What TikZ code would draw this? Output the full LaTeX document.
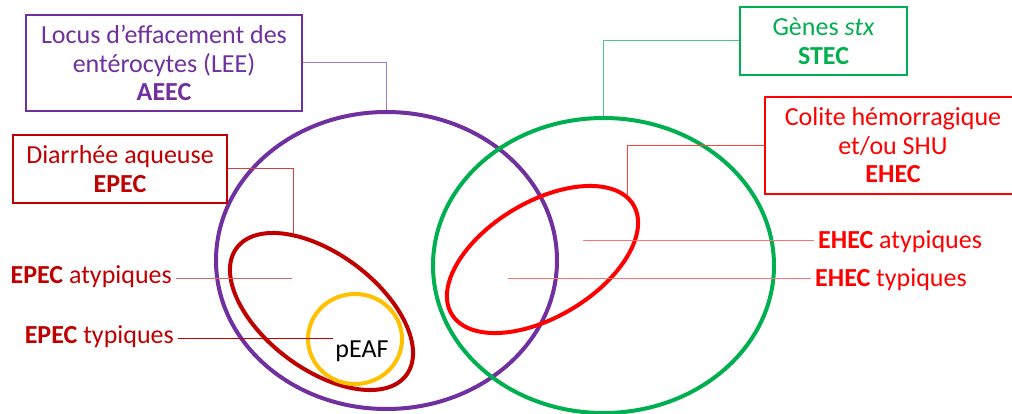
\documentclass[tikz,border=0pt]{standalone}
\usepackage{fontspec}
\setmainfont{Carlito}
\usetikzlibrary{shapes.geometric}
\definecolor{leec}{HTML}{7030A0}
\definecolor{epecc}{HTML}{C00000}
\definecolor{ehecc}{HTML}{FF0000}
\definecolor{stecc}{HTML}{00B050}
\definecolor{peafc}{HTML}{FFC000}
\begin{document}
\begin{tikzpicture}[x=1pt,y=-1pt,
  txt/.style={font=\fontsize{26}{28.5}\selectfont, align=center, inner sep=0pt},
  infobox/.style={txt, draw, line width=2pt},
  ring/.style={draw, ellipse, line width=4pt, inner sep=0pt},
  conn/.style={line width=1pt},
  lbl/.style={txt, inner xsep=4pt}]
\path[use as bounding box] (0,0) rectangle (1012,414);
\fill[white] (0,0) rectangle (1012,414);
\clip (0,0) rectangle (1012,414);

% sets
\node[ring, leec, minimum width=341pt, minimum height=297pt] (leeE) at (386.5,260.5) {};
\node[ring, stecc, minimum width=341pt, minimum height=295pt] (stecE) at (603.5,265.5) {};
\node[ring, ehecc, minimum width=212pt, minimum height=115pt, rotate=31] (ehecE) at (542.5,259.5) {};
\node[ring, epecc, minimum width=212pt, minimum height=115pt, rotate=-36.9] (epecE) at (321.5,311.5) {};
\node[ring, peafc, minimum width=94pt, minimum height=90pt] (peafE) at (355,339) {};
\node[txt] (peafT) at (362,351) {pEAF};

% boxes
\node[infobox, leec, minimum width=276pt, minimum height=96pt] (leeB) at (164,63)
  {Locus d’effacement des\\entérocytes (LEE)\\\textbf{AEEC}};
\node[infobox, epecc, minimum width=214pt, minimum height=68pt] (epecB) at (120,169)
  {Diarrhée aqueuse\\\textbf{EPEC}};
\node[infobox, stecc, minimum width=167pt, minimum height=68pt] (stecB) at (823.5,41)
  {Gènes \textit{stx}\\\textbf{STEC}};
\node[infobox, ehecc, minimum width=256pt, minimum height=97pt] (ehecB) at (893,145.5)
  {Colite hémorragique\\et/ou SHU\\\textbf{EHEC}};

% labels
\node[lbl, epecc, anchor=east] (epecA) at (176,277) {\textbf{EPEC} atypiques};
\node[lbl, epecc, anchor=east] (epecT) at (178,337) {\textbf{EPEC} typiques};
\node[lbl, ehecc, anchor=west] (ehecA) at (814,242) {\textbf{EHEC} atypiques};
\node[lbl, ehecc, anchor=west] (ehecT) at (811,280) {\textbf{EHEC} typiques};

% free ends
\coordinate (epecTop) at (293,233);
\coordinate (ehecTop) at (627,195);
\coordinate (epecAin) at (292,278);
\coordinate (epecTin) at (333,338);
\coordinate (ehecAin) at (583,241);
\coordinate (ehecTin) at (508,278);

% connectors
\draw[conn, leec!65] (leeB.east) -| (leeE.north);
\draw[conn, epecc!75] (epecB.east) -| (epecTop);
\draw[conn, stecc!70] (stecB.west) -| (stecE.north);
\draw[conn, ehecc!75] (ehecB.west) -| (ehecTop);
\draw[conn, epecc!60] (epecAin) -- (epecAin -| epecA.east);
\draw[conn, epecc] (epecTin) -- (epecTin -| epecT.east);
\draw[conn, ehecc!55] (ehecAin) -- (ehecAin -| ehecA.west);
\draw[conn, ehecc!55] (ehecTin) -- (ehecTin -| ehecT.west);
\end{tikzpicture}
\end{document}
